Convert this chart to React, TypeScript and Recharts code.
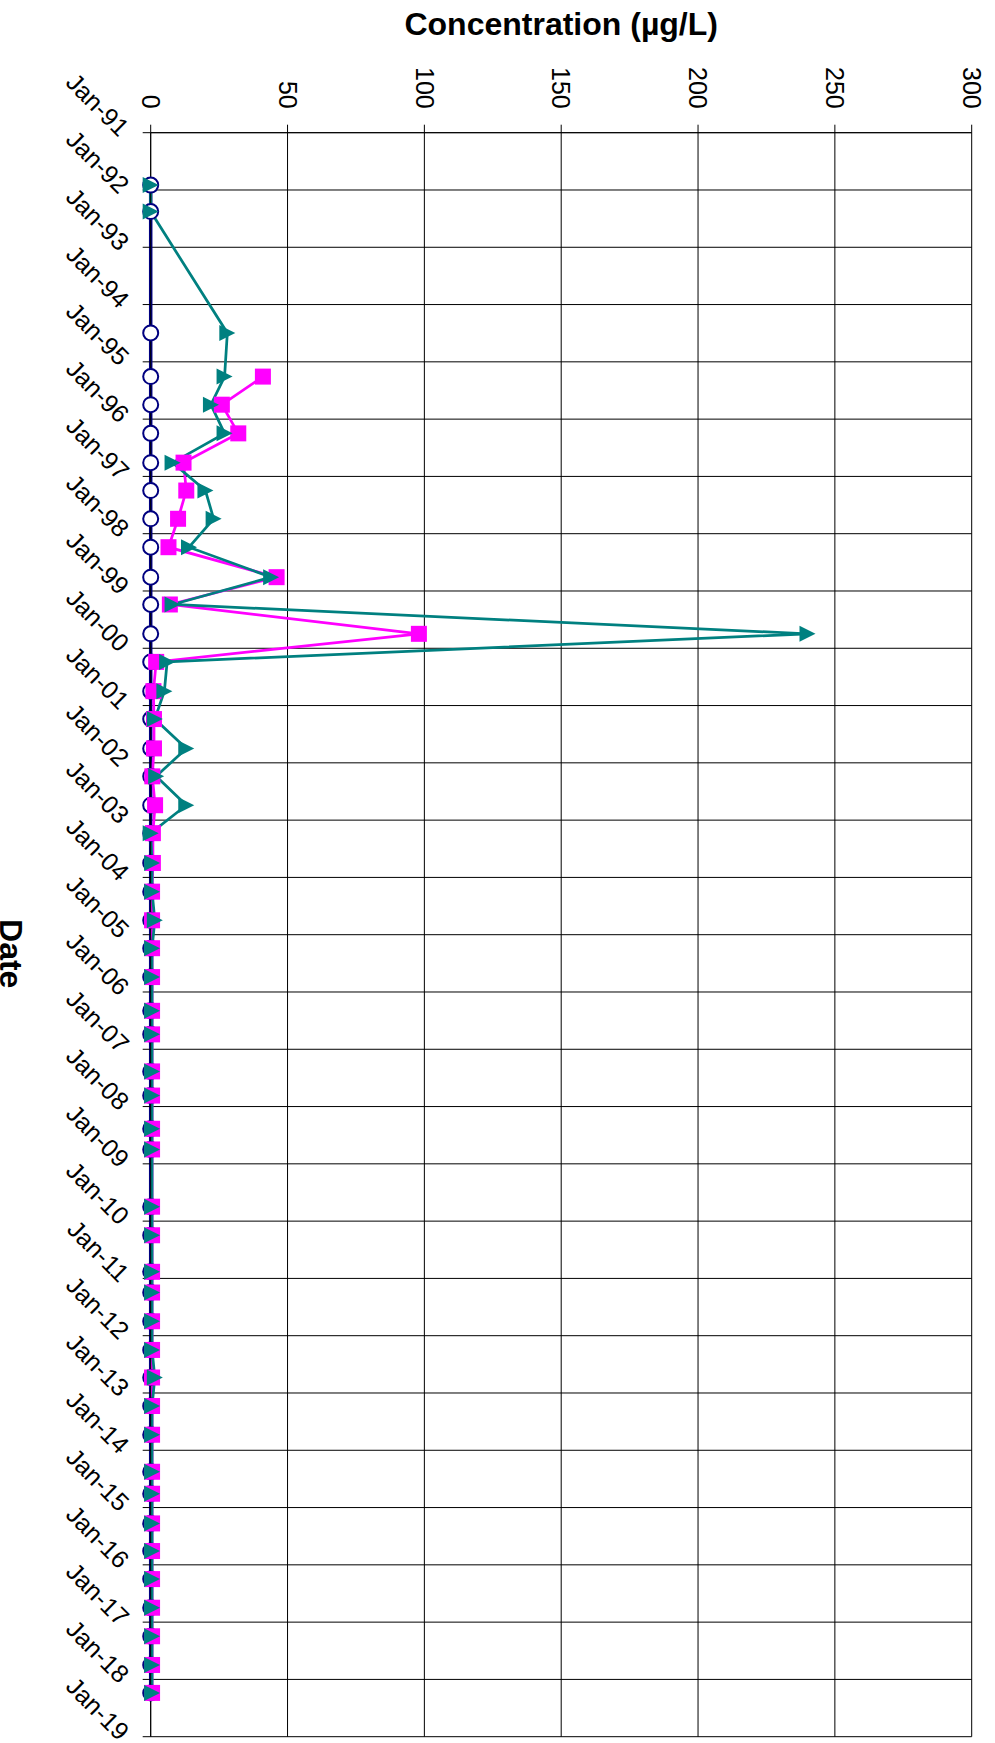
import React from 'react';
import { LineChart, Line, XAxis, YAxis, CartesianGrid, Label } from 'recharts';

// Sampling dates (ISO), one row per event
const sampleDates = [
  '1991-12-01', '1992-05-18', '1994-07-01', '1995-04-05', '1995-10-01',
  '1996-04-01', '1996-10-05', '1997-04-01', '1997-09-28', '1998-03-28',
  '1998-10-05', '1999-03-28', '1999-10-01', '2000-03-28', '2000-10-01',
  '2001-03-28', '2001-10-01', '2002-03-28', '2002-09-28', '2003-03-25',
  '2003-10-01', '2004-04-01', '2004-10-01', '2005-03-28', '2005-09-28',
  '2006-05-01', '2006-09-28', '2007-05-22', '2007-10-23', '2008-05-22',
  '2008-10-01', '2009-10-01', '2010-04-01', '2010-11-20', '2011-04-01',
  '2011-10-01', '2012-04-01', '2012-09-24', '2013-03-25', '2013-09-24',
  '2014-05-18', '2014-10-05', '2015-04-12', '2015-10-05', '2016-04-01',
  '2016-10-01', '2017-04-01', '2017-10-01', '2018-03-28',
];

// Concentrations in µg/L
const navySeries = [
  0, 0, 0, 0, 0, 0, 0, 0, 0, 0,
  0, 0, 0, 0, 0, 0, 0, 0, 0, 0,
  0, 0, 0, 0, 0, 0, 0, 0, 0, 0,
  0, 0, 0, 0, 0, 0, 0, 0, 0, 0,
  0, 0, 0, 0, 0, 0, 0, 0, 0,
];

const magentaSeries = [
  null, null, null, 41, 26, 32, 12, 13, 10, 6.5,
  46, 7, 98, 2, 1, 1.2, 1.2, 0.6, 1.6, 0.8,
  0.8, 0.5, 0.5, 0.5, 0.5, 0.5, 0.5, 0.5, 0.5, 0.5,
  0.5, 0.5, 0.5, 0.5, 0.5, 0.5, 0.5, 0.5, 0.5, 0.5,
  0.5, 0.5, 0.5, 0.5, 0.5, 0.5, 0.5, 0.5, 0.5,
];

const tealSeries = [
  0, 0, 28, 27, 22, 27, 8, 20, 23, 14,
  44, 8, 240, 6, 5, 1.5, 13, 2, 13, 0,
  0.5, 0.5, 1.5, 0.5, 0.5, 0.5, 0.5, 0.5, 0.5, 0.5,
  0.5, 0.5, 0.5, 0.5, 0.5, 0.5, 0.5, 1.5, 0.5, 0.5,
  0.5, 0.5, 0.5, 0.5, 0.5, 0.5, 0.5, 0.5, 0.5,
];

const concTicks = [0, 50, 100, 150, 200, 250, 300];
const yearTicks = [
  1991, 1992, 1993, 1994, 1995, 1996, 1997, 1998, 1999, 2000,
  2001, 2002, 2003, 2004, 2005, 2006, 2007, 2008, 2009, 2010,
  2011, 2012, 2013, 2014, 2015, 2016, 2017, 2018, 2019,
];

const FONT = "'Liberation Sans', Arial, Helvetica, sans-serif";
const NAVY = '#000080';
const MAGENTA = '#FF00FF';
const TEAL = '#008080';

const W = 995;
const H = 1743;
const MARGIN = { top: 92.7, right: 23.3, bottom: 6.3, left: 110.7 };
const X_AXIS_H = 40;
const Y_AXIS_W = 40;
const PLOT_TOP = MARGIN.top + X_AXIS_H;
const PLOT_LEFT = MARGIN.left + Y_AXIS_W;

// ISO date -> fractional year
const toYear = (iso: string) => {
  const [y, m, d] = iso.split('-').map(Number);
  const start = Date.UTC(y, 0, 1);
  const end = Date.UTC(y + 1, 0, 1);
  return y + (Date.UTC(y, m - 1, d) - start) / (end - start);
};

const rows = sampleDates.map((d, i) => ({
  t: toYear(d),
  navy: navySeries[i],
  magenta: magentaSeries[i],
  teal: tealSeries[i],
}));

const yearLabel = (y: number) => `Jan-${String(y % 100).padStart(2, '0')}`;

const ok = (p: any) =>
  p.cx != null && p.cy != null && p.value != null && !Number.isNaN(p.cx) && !Number.isNaN(p.cy);

const circleDot = (p: any) =>
  ok(p) ? (
    <circle key={`c-${p.index}`} cx={p.cx} cy={p.cy} r={7.5} fill="#fff" stroke={NAVY} strokeWidth={2} />
  ) : (
    <g key={`c-${p.index}`} />
  );

const squareDot = (p: any) =>
  ok(p) ? (
    <rect key={`s-${p.index}`} x={p.cx - 8} y={p.cy - 8} width={16} height={16} fill={MAGENTA} />
  ) : (
    <g key={`s-${p.index}`} />
  );

const triangleDot = (p: any) =>
  ok(p) ? (
    <polygon
      key={`t-${p.index}`}
      points={`${p.cx + 8},${p.cy} ${p.cx - 8},${p.cy - 8} ${p.cx - 8},${p.cy + 8}`}
      fill={TEAL}
    />
  ) : (
    <g key={`t-${p.index}`} />
  );

const ConcTick = (props: any) => {
  const { x, payload } = props;
  return (
    <text
      transform={`translate(${x},${PLOT_TOP - 24}) rotate(90)`}
      textAnchor="end"
      dy="0.35em"
      fontSize={25}
      fontFamily={FONT}
      fill="#000"
    >
      {payload.value}
    </text>
  );
};

const DateTick = (props: any) => {
  const { y, payload } = props;
  return (
    <text
      transform={`translate(${PLOT_LEFT - 26},${y - 1}) rotate(45)`}
      textAnchor="end"
      dy="0.35em"
      fontSize={25}
      fontFamily={FONT}
      fill="#000"
    >
      {yearLabel(payload.value)}
    </text>
  );
};

export default function App() {
  return (
    <div style={{ position: 'absolute', left: 0, top: 0, width: W, height: H, background: '#fff', overflow: 'hidden' }}>
      <LineChart width={W} height={H} data={rows} layout="vertical" margin={MARGIN}>
        <CartesianGrid stroke="#000" strokeWidth={1} />
        <XAxis
          type="number"
          orientation="top"
          domain={[0, 300]}
          ticks={concTicks}
          interval={0}
          height={X_AXIS_H}
          tickSize={8}
          tickLine={{ stroke: '#000', strokeWidth: 1 }}
          axisLine={{ stroke: '#000', strokeWidth: 1 }}
          tick={<ConcTick />}
        >
          <Label
            content={(p: any) => {
              const vb = p.viewBox || {};
              return (
                <text
                  x={vb.x + vb.width / 2}
                  y={35}
                  textAnchor="middle"
                  fontSize={32}
                  fontWeight="bold"
                  fontFamily={FONT}
                  fill="#000"
                >
                  Concentration (µg/L)
                </text>
              );
            }}
          />
        </XAxis>
        <YAxis
          type="number"
          dataKey="t"
          domain={[1991, 2019]}
          ticks={yearTicks}
          interval={0}
          width={Y_AXIS_W}
          tickSize={8}
          tickLine={{ stroke: '#000', strokeWidth: 1 }}
          axisLine={{ stroke: '#000', strokeWidth: 1 }}
          tick={<DateTick />}
        >
          <Label
            content={(p: any) => {
              const vb = p.viewBox || {};
              const cy = vb.y + vb.height / 2 + 19;
              return (
                <text
                  transform={`translate(-0.5,${cy}) rotate(90)`}
                  textAnchor="middle"
                  fontSize={32}
                  fontWeight="bold"
                  fontFamily={FONT}
                  fill="#000"
                >
                  Date
                </text>
              );
            }}
          />
        </YAxis>
        <Line
          type="linear"
          dataKey="navy"
          stroke={NAVY}
          strokeWidth={3.5}
          dot={circleDot}
          activeDot={false}
          isAnimationActive={false}
        />
        <Line
          type="linear"
          dataKey="magenta"
          stroke={MAGENTA}
          strokeWidth={2.75}
          dot={squareDot}
          activeDot={false}
          isAnimationActive={false}
        />
        <Line
          type="linear"
          dataKey="teal"
          stroke={TEAL}
          strokeWidth={2.75}
          dot={triangleDot}
          activeDot={false}
          isAnimationActive={false}
        />
      </LineChart>
    </div>
  );
}
